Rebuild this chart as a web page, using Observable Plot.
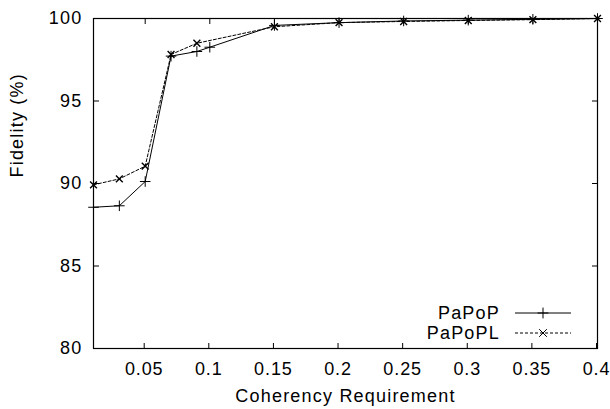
<!DOCTYPE html>
<html>
<head>
<meta charset="utf-8">
<script src="https://cdn.jsdelivr.net/npm/d3@7"></script>
<script src="https://cdn.jsdelivr.net/npm/@observablehq/plot@0.6"></script>
<style>
  html, body { margin: 0; padding: 0; background: #fff; }
  svg text { letter-spacing: 1.2px; }
  svg g[aria-label="x-axis tick label"] text { letter-spacing: 0.9px; }
</style>
</head>
<body>
<div id="chart"></div>
<script>
const xValuesP  = [0.01, 0.03, 0.05, 0.07, 0.09, 0.1, 0.15, 0.2, 0.25, 0.3, 0.35, 0.4];
const papop     = [88.56, 88.65, 90.12, 97.72, 98.0, 98.26, 99.58, 99.75, 99.85, 99.9, 99.95, 100];
const xValuesPL = [0.01, 0.03, 0.05, 0.07, 0.09, 0.15, 0.2, 0.25, 0.3, 0.35, 0.4];
const papopl    = [89.92, 90.28, 91.05, 97.82, 98.5, 99.5, 99.75, 99.82, 99.88, 99.93, 100];
const seriesNames = ["PaPoP", "PaPoPL"];
const xTicks = [0.05, 0.1, 0.15, 0.2, 0.25, 0.3, 0.35, 0.4];
const yTicks = [80, 85, 90, 95, 100];
const xTitle = "Coherency Requirement";
const yTitle = "Fidelity (%)";

const dataP  = xValuesP.map((x, i) => ({x, y: papop[i]}));
const dataPL = xValuesPL.map((x, i) => ({x, y: papopl[i]}));

const chart = Plot.plot({
  width: 610,
  height: 409,
  marginLeft: 93,
  marginRight: 13,
  marginTop: 18,
  marginBottom: 61,
  style: {fontFamily: "'Liberation Sans', Arial, sans-serif", fontSize: "18px", color: "#000", background: "#fff"},
  x: {domain: [0.01, 0.4]},
  y: {domain: [80, 100]},
  marks: [
    Plot.axisX({anchor: "bottom", ticks: xTicks, tickSize: -5, tickPadding: 19, label: null, tickFormat: d => String(d), dx: -1, stroke: "#000", strokeOpacity: 1}),
    Plot.axisX({anchor: "top", ticks: xTicks, tickSize: -5, label: null, tickFormat: () => "", stroke: "#000", strokeOpacity: 1}),
    Plot.axisY({anchor: "left", ticks: yTicks, tickSize: -6, tickPadding: 17, label: null, tickFormat: d => String(d), stroke: "#000", strokeOpacity: 1}),
    Plot.axisY({anchor: "right", ticks: yTicks, tickSize: -6, label: null, tickFormat: () => "", stroke: "#000", strokeOpacity: 1}),
    Plot.line(dataPL, {x: "x", y: "y", stroke: "#000", strokeWidth: 1, strokeDasharray: "3,2"}),
    Plot.dot(dataPL, {x: "x", y: "y", symbol: "times", r: 3.2, stroke: "#000", strokeWidth: 1.4}),
    Plot.line(dataP, {x: "x", y: "y", stroke: "#000", strokeWidth: 1}),
    Plot.dot(dataP, {x: "x", y: "y", symbol: "plus", r: 3.5, stroke: "#000", strokeWidth: 1}),
    Plot.frame({stroke: "#000", strokeWidth: 1.2}),
    Plot.text([xTitle], {frameAnchor: "bottom", dy: 53, text: d => d, fill: "#000"}),
    Plot.text([yTitle], {frameAnchor: "left", dx: -76, dy: -6, rotate: -90, text: d => d, fill: "#000"})
  ]
});

// Legend (inside bottom-right)
const svg = d3.select(chart);
const g = svg.append("g").attr("font-family", "'Liberation Sans', Arial, sans-serif").attr("font-size", 18);
const legendItems = [
  {name: seriesNames[0], dash: null, symbol: d3.symbolPlus, y: 313},
  {name: seriesNames[1], dash: "3,2", symbol: d3.symbolTimes, y: 333}
];
legendItems.forEach(it => {
  g.append("text").attr("x", 500).attr("y", it.y).attr("text-anchor", "end")
    .attr("dy", "0.35em").attr("fill", "#000").text(it.name);
  g.append("line").attr("x1", 515).attr("x2", 571).attr("y1", it.y).attr("y2", it.y)
    .attr("stroke", "#000").attr("stroke-width", 1).attr("stroke-dasharray", it.dash);
  g.append("path").attr("transform", `translate(543,${it.y})`)
    .attr("d", d3.symbol(it.symbol, 40)()).attr("fill", "none").attr("stroke", "#000").attr("stroke-width", 1);
});

document.getElementById("chart").appendChild(chart);
</script>
</body>
</html>
